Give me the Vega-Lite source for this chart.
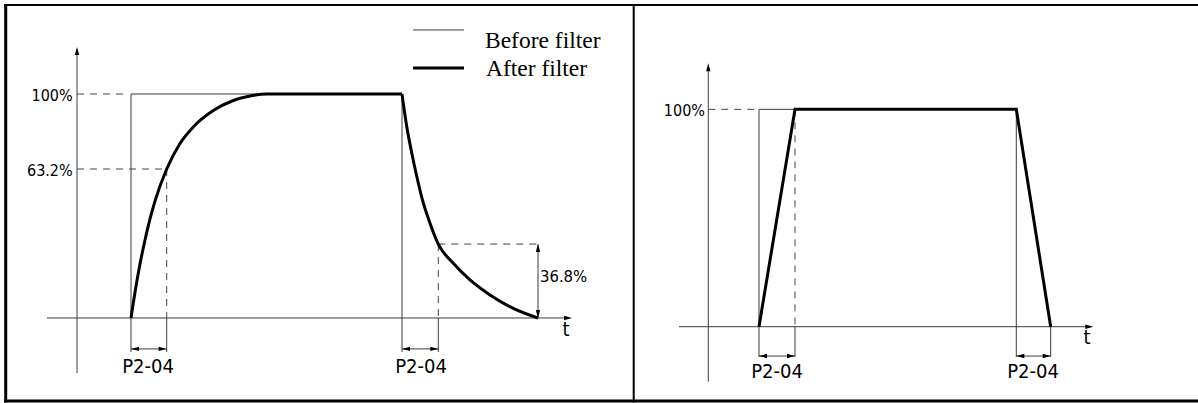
{
  "$schema": "https://vega.github.io/schema/vega-lite/v6.json",
  "padding": 0,
  "spacing": 0,
  "bounds": "flush",
  "background": "white",
  "config": {"view": {"stroke": null}},
  "datasets": {
    "p1_frame3": [
      {"t": -71.3, "v": 140.2, "t2": -71.3, "v2": -37.7},
      {"t": -73, "v": -37.05, "t2": 557, "v2": -37.05}
    ],
    "p1_frame2": [
      {"t": -73, "v": 139.7, "t2": 557, "v2": 139.7},
      {"t": 556.7, "v": 140.2, "t2": 556.7, "v2": -37.7}
    ],
    "p1_thin": [
      {"t": 0, "v": -24.6, "t2": 0, "v2": 119.6},
      {"t": -30, "v": 0, "t2": 492, "v2": 0},
      {"t": 54, "v": -15.2, "t2": 54, "v2": 100},
      {"t": 54, "v": 100, "t2": 325, "v2": 100},
      {"t": 325, "v": 100, "t2": 325, "v2": -15.2},
      {"t": 89.7, "v": 0, "t2": 89.7, "v2": -15.2},
      {"t": 361.3, "v": 0, "t2": 361.3, "v2": -15.2},
      {"t": 54, "v": -13.8, "t2": 89.7, "v2": -13.8},
      {"t": 325, "v": -13.8, "t2": 361.3, "v2": -13.8},
      {"t": 461, "v": 0, "t2": 461, "v2": 33.0},
      {"t": 336, "v": 128.6, "t2": 387, "v2": 128.6}
    ],
    "p1_dashed": [
      {"t": 0, "v": 100, "t2": 50, "v2": 100},
      {"t": 0, "v": 66.5, "t2": 89.7, "v2": 66.5},
      {"t": 89.7, "v": 66.5, "t2": 89.7, "v2": 0},
      {"t": 361.3, "v": 33.0, "t2": 461, "v2": 33.0},
      {"t": 361.3, "v": 33.0, "t2": 361.3, "v2": 0}
    ],
    "p1_legend_thick": [
      {"t": 336, "v": 111.6, "t2": 387, "v2": 111.6}
    ],
    "p1_curve": [
      {"seg": "rise", "t": 54, "v": 0},
      {"seg": "rise", "t": 56, "v": 5.9},
      {"seg": "rise", "t": 59, "v": 14.2},
      {"seg": "rise", "t": 63, "v": 24.1},
      {"seg": "rise", "t": 68, "v": 34.8},
      {"seg": "rise", "t": 73, "v": 44.2},
      {"seg": "rise", "t": 78, "v": 52.2},
      {"seg": "rise", "t": 89.7, "v": 66.5},
      {"seg": "rise", "t": 103, "v": 77.9},
      {"seg": "rise", "t": 116.3, "v": 85.3},
      {"seg": "rise", "t": 136.3, "v": 92.6},
      {"seg": "rise", "t": 156.3, "v": 97.1},
      {"seg": "rise", "t": 173, "v": 99.1},
      {"seg": "rise", "t": 189.7, "v": 100},
      {"seg": "rise", "t": 325, "v": 100},
      {"seg": "decay", "t": 325, "v": 100},
      {"seg": "decay", "t": 329.7, "v": 85.6},
      {"seg": "decay", "t": 334.7, "v": 73.8},
      {"seg": "decay", "t": 339.7, "v": 63.4},
      {"seg": "decay", "t": 344.7, "v": 54.0},
      {"seg": "decay", "t": 353, "v": 42.3},
      {"seg": "decay", "t": 361.3, "v": 33.0},
      {"seg": "decay", "t": 376.3, "v": 24.4},
      {"seg": "decay", "t": 393, "v": 17.0},
      {"seg": "decay", "t": 413, "v": 10.3},
      {"seg": "decay", "t": 436.3, "v": 4.3},
      {"seg": "decay", "t": 461, "v": 0}
    ],
    "p1_arrows": [
      {"t": 0, "v": 121.0, "dir": "up"},
      {"t": 495, "v": 0, "dir": "right"},
      {"t": 54, "v": -13.8, "dir": "left"},
      {"t": 89.7, "v": -13.8, "dir": "right"},
      {"t": 325, "v": -13.8, "dir": "left"},
      {"t": 361.3, "v": -13.8, "dir": "right"},
      {"t": 461, "v": 33.0, "dir": "up"},
      {"t": 461, "v": 0, "dir": "down"}
    ],
    "p1_labels_right": [
      {"t": -4.3, "v": 100, "label": "100%"},
      {"t": -4.3, "v": 66.5, "label": "63.2%"}
    ],
    "p1_labels_center": [
      {"t": 71, "v": -21.7, "label": "P2-04"},
      {"t": 344, "v": -21.7, "label": "P2-04"},
      {"t": 489, "v": -5.4, "label": "t"}
    ],
    "p1_labels_left": [
      {"t": 463, "v": 18.3, "label": "36.8%"}
    ],
    "p1_legend_text": [
      {"t": 408, "v": 120.5, "label": "Before filter"},
      {"t": 409, "v": 108.0, "label": "After filter"}
    ],
    "p2_frame3": [
      {"t": -75, "v": -34.2, "t2": 490, "v2": -34.2}
    ],
    "p2_frame2": [
      {"t": -75, "v": 148.0, "t2": 490, "v2": 148.0}
    ],
    "p2_thin": [
      {"t": 0, "v": -25.3, "t2": 0, "v2": 119.5},
      {"t": -29.3, "v": 0, "t2": 382, "v2": 0},
      {"t": 50.7, "v": -13.9, "t2": 50.7, "v2": 100},
      {"t": 50.7, "v": 100, "t2": 308, "v2": 100},
      {"t": 308, "v": 100, "t2": 308, "v2": -13.9},
      {"t": 86.7, "v": 0, "t2": 86.7, "v2": -13.9},
      {"t": 342.4, "v": 0, "t2": 342.4, "v2": -13.9},
      {"t": 50.7, "v": -13.5, "t2": 86.7, "v2": -13.5},
      {"t": 308, "v": -13.5, "t2": 342.4, "v2": -13.5}
    ],
    "p2_dashed": [
      {"t": 0, "v": 100, "t2": 50.7, "v2": 100},
      {"t": 86.7, "v": 100, "t2": 86.7, "v2": 0}
    ],
    "p2_curve": [
      {"t": 50.7, "v": 0},
      {"t": 86.7, "v": 100},
      {"t": 308, "v": 100},
      {"t": 342.4, "v": 0}
    ],
    "p2_arrows": [
      {"t": 0, "v": 121.2, "dir": "up"},
      {"t": 385, "v": 0, "dir": "right"},
      {"t": 50.7, "v": -13.5, "dir": "left"},
      {"t": 86.7, "v": -13.5, "dir": "right"},
      {"t": 308, "v": -13.5, "dir": "left"},
      {"t": 342.4, "v": -13.5, "dir": "right"}
    ],
    "p2_labels_right": [
      {"t": -3.3, "v": 100, "label": "100%"}
    ],
    "p2_labels_center": [
      {"t": 68.7, "v": -20.8, "label": "P2-04"},
      {"t": 324.7, "v": -20.8, "label": "P2-04"},
      {"t": 378.7, "v": -5.0, "label": "t"}
    ]
  },
  "hconcat": [
    {
      "width": 634,
      "height": 403,
      "encoding": {
        "x": {"field": "t", "type": "quantitative", "axis": null, "scale": {"domain": [-77, 557], "nice": false, "zero": false}},
        "y": {"field": "v", "type": "quantitative", "axis": null, "scale": {"domain": [-37.95, 141.96], "nice": false, "zero": false}}
      },
      "layer": [
        {"data": {"name": "p1_thin"}, "mark": {"type": "rule", "color": "#3c3c3c", "strokeWidth": 1}, "encoding": {"x2": {"field": "t2"}, "y2": {"field": "v2"}}},
        {"data": {"name": "p1_dashed"}, "mark": {"type": "rule", "color": "#444", "strokeWidth": 1, "strokeDash": [7, 6]}, "encoding": {"x2": {"field": "t2"}, "y2": {"field": "v2"}}},
        {"data": {"name": "p1_legend_thick"}, "mark": {"type": "rule", "color": "black", "strokeWidth": 3}, "encoding": {"x2": {"field": "t2"}, "y2": {"field": "v2"}}},
        {"data": {"name": "p1_curve"}, "mark": {"type": "line", "color": "black", "strokeWidth": 3, "interpolate": "monotone"}, "encoding": {"detail": {"field": "seg", "type": "nominal"}}},
        {"data": {"name": "p1_arrows"}, "mark": {"type": "point", "filled": true, "color": "black", "opacity": 1, "size": 64, "strokeWidth": 0},
          "encoding": {"shape": {"field": "dir", "type": "nominal", "legend": null, "scale": {"domain": ["up", "down", "left", "right"], "range": ["M0,0L-0.55,2L0.55,2Z", "M0,0L-0.55,-2L0.55,-2Z", "M0,0L2,-0.55L2,0.55Z", "M0,0L-2,-0.55L-2,0.55Z"]}}}},
        {"data": {"name": "p1_labels_right"}, "mark": {"type": "text", "align": "right", "baseline": "middle", "dy": 2, "font": "DejaVu Sans Condensed, sans-serif", "fontSize": 16, "color": "black"}, "encoding": {"text": {"field": "label"}}},
        {"data": {"name": "p1_labels_center"}, "mark": {"type": "text", "align": "center", "baseline": "middle", "font": "DejaVu Sans Condensed, sans-serif", "fontSize": 20, "color": "black"}, "encoding": {"text": {"field": "label"}}},
        {"data": {"name": "p1_labels_left"}, "mark": {"type": "text", "align": "left", "baseline": "middle", "font": "DejaVu Sans Condensed, sans-serif", "fontSize": 16.5, "color": "black"}, "encoding": {"text": {"field": "label"}}},
        {"data": {"name": "p1_legend_text"}, "mark": {"type": "text", "align": "left", "baseline": "alphabetic", "font": "Liberation Serif, Times New Roman, serif", "fontSize": 23.5, "color": "black"}, "encoding": {"text": {"field": "label"}}},
        {"data": {"name": "p1_frame3"}, "mark": {"type": "rule", "color": "black", "strokeWidth": 3}, "encoding": {"x2": {"field": "t2"}, "y2": {"field": "v2"}}},
        {"data": {"name": "p1_frame2"}, "mark": {"type": "rule", "color": "black", "strokeWidth": 2}, "encoding": {"x2": {"field": "t2"}, "y2": {"field": "v2"}}}
      ]
    },
    {
      "width": 564,
      "height": 403,
      "encoding": {
        "x": {"field": "t", "type": "quantitative", "axis": null, "scale": {"domain": [-74.3, 489.7], "nice": false, "zero": false}},
        "y": {"field": "v", "type": "quantitative", "axis": null, "scale": {"domain": [-35.1, 150.3], "nice": false, "zero": false}}
      },
      "layer": [
        {"data": {"name": "p2_thin"}, "mark": {"type": "rule", "color": "#3c3c3c", "strokeWidth": 1}, "encoding": {"x2": {"field": "t2"}, "y2": {"field": "v2"}}},
        {"data": {"name": "p2_dashed"}, "mark": {"type": "rule", "color": "#444", "strokeWidth": 1, "strokeDash": [7, 6]}, "encoding": {"x2": {"field": "t2"}, "y2": {"field": "v2"}}},
        {"data": {"name": "p2_curve"}, "mark": {"type": "line", "color": "black", "strokeWidth": 3}, "encoding": {}},
        {"data": {"name": "p2_arrows"}, "mark": {"type": "point", "filled": true, "color": "black", "opacity": 1, "size": 64, "strokeWidth": 0},
          "encoding": {"shape": {"field": "dir", "type": "nominal", "legend": null, "scale": {"domain": ["up", "down", "left", "right"], "range": ["M0,0L-0.55,2L0.55,2Z", "M0,0L-0.55,-2L0.55,-2Z", "M0,0L2,-0.55L2,0.55Z", "M0,0L-2,-0.55L-2,0.55Z"]}}}},
        {"data": {"name": "p2_labels_right"}, "mark": {"type": "text", "align": "right", "baseline": "middle", "dy": 2, "font": "DejaVu Sans Condensed, sans-serif", "fontSize": 16, "color": "black"}, "encoding": {"text": {"field": "label"}}},
        {"data": {"name": "p2_labels_center"}, "mark": {"type": "text", "align": "center", "baseline": "middle", "font": "DejaVu Sans Condensed, sans-serif", "fontSize": 20, "color": "black"}, "encoding": {"text": {"field": "label"}}},
        {"data": {"name": "p2_frame3"}, "mark": {"type": "rule", "color": "black", "strokeWidth": 3}, "encoding": {"x2": {"field": "t2"}, "y2": {"field": "v2"}}},
        {"data": {"name": "p2_frame2"}, "mark": {"type": "rule", "color": "black", "strokeWidth": 2}, "encoding": {"x2": {"field": "t2"}, "y2": {"field": "v2"}}}
      ]
    }
  ]
}
